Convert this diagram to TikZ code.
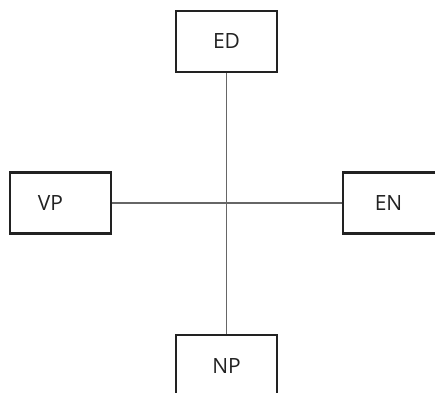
\documentclass[tikz,border=0pt]{standalone}
\usepackage{fontspec}
\setmainfont{Open Sans}
\usepackage{tikz}
\definecolor{boxline}{HTML}{222222}
\definecolor{linkline}{HTML}{666666}

\begin{document}
\begin{tikzpicture}[x=1pt, y=1pt,
  boxnd/.style={draw=boxline, line width=2.4pt, minimum width=101pt, minimum height=61pt, inner sep=0pt, font=\fontsize{21}{24}\selectfont, text=boxline},
  boxtxt/.style={font=\fontsize{21}{24}\selectfont, text=boxline},
  link/.style={draw=linkline, line width=1.2pt}]
\useasboundingbox (0,0) rectangle (435,392);
\begin{scope}
\clip (0,0) rectangle (435,392);
\node[boxnd] (ed) at (226.5,350.5) {ED};
\node[boxnd] (np) at (226.5,26.5) {NP};
\node[boxnd, label={[xshift=-10pt, boxtxt]center:VP}] (vp) at (60.5,189) {};
\node[boxnd, label={[xshift=-5pt, boxtxt]center:EN}] (en) at (393.5,189) {};
\coordinate (mid) at (ed.south |- vp.east);
\draw[link] (ed.south) -- (mid) -- (np.north);
\draw[link] (vp.east) -- (mid) -- (en.west);
\end{scope}
\end{tikzpicture}
\end{document}
